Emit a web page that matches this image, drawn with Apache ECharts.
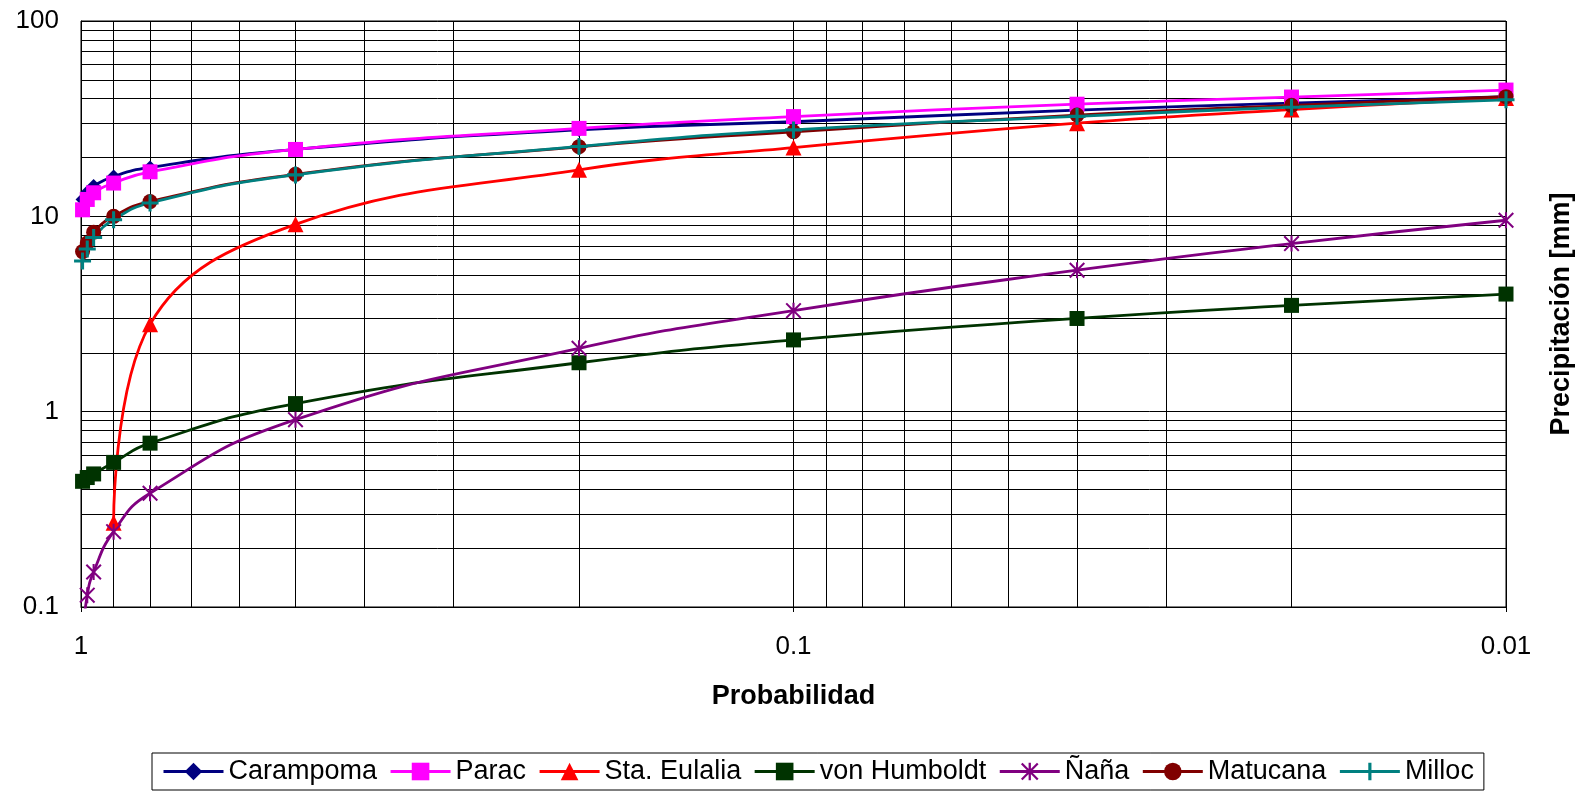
<!DOCTYPE html>
<html><head><meta charset="utf-8">
<script src="https://cdn.jsdelivr.net/npm/echarts@6/dist/echarts.min.js"></script>
<style>html,body{margin:0;padding:0;background:#fff}#c{width:1585px;height:794px}</style>
</head><body><div id="c"></div>
<script>
// Probabilities (x) shared by all stations
const probabilities = [0.995, 0.98, 0.96, 0.9, 0.8, 0.5, 0.2, 0.1, 0.04, 0.02, 0.01];
// Precipitation [mm] per station
const carampoma   = [12.2, 13.3, 14.3, 16.0, 17.8, 22.0, 27.7, 30.5, 35.0, 38.0, 41.0];
const parac       = [10.8, 12.2, 13.2, 14.8, 16.9, 22.0, 28.2, 32.4, 37.5, 40.8, 44.3];
const staEulalia  = [null, null, null, 0.27, 2.8, 9.1, 17.3, 22.5, 30.0, 35.2, 40.3];
const vonHumboldt = [0.44, 0.46, 0.48, 0.55, 0.69, 1.10, 1.78, 2.33, 3.0, 3.5, 4.0];
const nana        = [0.07, 0.115, 0.151, 0.243, 0.382, 0.91, 2.11, 3.29, 5.3, 7.25, 9.55];
const matucana    = [6.6, 7.3, 8.3, 10.0, 11.9, 16.4, 22.7, 27.1, 33.0, 37.0, 41.0];
const milloc      = [5.9, 6.8, 7.8, 9.6, 11.7, 16.3, 22.8, 27.7, 32.5, 36.2, 39.5];

const seriesNames = ['Carampoma', 'Parac', 'Sta. Eulalia', 'von Humboldt', 'Ñaña', 'Matucana', 'Milloc'];
const seriesColors = ['#000080', '#FF00FF', '#FF0000', '#003300', '#800080', '#800000', '#008080'];

// Axis ticks and minor grid values
const xTickLabels = ['1', '0.1', '0.01'];
const yTickLabels = ['0.1', '1', '10', '100'];
const xMinorGrid = [0.9, 0.8, 0.7, 0.6, 0.5, 0.4, 0.3, 0.2, 0.09, 0.08, 0.07, 0.06, 0.05, 0.04, 0.03, 0.02];
const yMinorGrid = [0.2, 0.3, 0.4, 0.5, 0.6, 0.7, 0.8, 0.9, 2, 3, 4, 5, 6, 7, 8, 9, 20, 30, 40, 50, 60, 70, 80, 90];

const starPath = 'path://M0,0.9L0.9,0L5,4.1L9.1,0L10,0.9L5.9,5L10,9.1L9.1,10L5,5.9L0.9,10L0,9.1L4.1,5Z M4.35,0H5.65V10H4.35Z';
const plusPath = 'path://M4.1,0H5.9V4.1H10V5.9H5.9V10H4.1V5.9H0V4.1H4.1Z';
const symbols = ['diamond', 'rect', 'triangle', 'rect', starPath, 'circle', plusPath];
const symbolSizes = [14, 15, 16, 15, 16, 15, 17];
const smoothness = [0.5, 0.5, 0.4, 0.5, 0.5, 0.5, 0.5];
const allValues = [carampoma, parac, staEulalia, vonHumboldt, nana, matucana, milloc];

function fmt(v) {
  return String(+(+v).toPrecision(4));
}

const FONT = 'Arial, "Liberation Sans", sans-serif';

const series = seriesNames.map((name, i) => ({
  name: name,
  type: 'line',
  smooth: smoothness[i],
  data: probabilities.map((p, j) => [p, allValues[i][j]]),
  symbol: symbols[i],
  symbolSize: symbolSizes[i],
  showAllSymbol: true,
  clip: true,
  lineStyle: { color: seriesColors[i], width: 2.8 },
  itemStyle: { color: seriesColors[i], borderWidth: 0 },
  emphasis: { disabled: true },
  z: 3
}));

series.unshift({
  name: '_grid',
  type: 'line',
  data: [],
  silent: true,
  z: 1,
  markLine: {
    silent: true,
    symbol: ['none', 'none'],
    label: { show: false },
    animation: false,
    z: 1,
    emphasis: { disabled: true },
    lineStyle: { color: '#000', width: 1, type: 'solid' },
    data: xMinorGrid.map(v => ({ xAxis: v })).concat(yMinorGrid.map(v => ({ yAxis: v })))
  }
});

const chart = echarts.init(document.getElementById('c'), null, { renderer: 'canvas' });
chart.setOption({
  animation: false,
  backgroundColor: '#fff',
  grid: {
    left: 81, right: 79, top: 21, bottom: 187,
    show: true, borderColor: '#000', borderWidth: 1,
    containLabel: false, outerBoundsMode: 'none'
  },
  xAxis: {
    type: 'log', logBase: 10, min: 0.01, max: 1, inverse: true,
    name: 'Probabilidad', nameLocation: 'middle', nameGap: 76,
    nameTextStyle: { fontFamily: FONT, fontSize: 27, fontWeight: 'bold', color: '#000' },
    axisLine: { show: true, lineStyle: { color: '#000', width: 1 } },
    axisTick: { show: true, inside: false, length: 5, lineStyle: { color: '#000' } },
    axisLabel: { fontFamily: FONT, fontSize: 26, color: '#000', margin: 27, formatter: fmt },
    splitLine: { show: true, lineStyle: { color: '#000', width: 1 } },
    minorTick: { show: false }, minorSplitLine: { show: false }
  },
  yAxis: {
    type: 'log', logBase: 10, min: 0.1, max: 100,
    axisLine: { show: true, lineStyle: { color: '#000', width: 1 } },
    axisTick: { show: false },
    axisLabel: { fontFamily: FONT, fontSize: 26, color: '#000', margin: 22, formatter: fmt },
    splitLine: { show: true, lineStyle: { color: '#000', width: 1 } },
    minorTick: { show: false }, minorSplitLine: { show: false }
  },
  legend: {
    data: seriesNames,
    left: 152, bottom: 4,
    orient: 'horizontal',
    padding: [5, 10],
    itemGap: 12,
    itemWidth: 60, itemHeight: 22,
    borderColor: '#000', borderWidth: 1, backgroundColor: '#fff',
    lineStyle: { width: 3 },
    textStyle: { fontFamily: FONT, fontSize: 27, color: '#000' },
    selectedMode: false
  },
  graphic: [{
    type: 'text',
    x: 1562, y: 314,
    rotation: Math.PI / 2,
    style: {
      text: 'Precipitación [mm]',
      fontFamily: FONT, fontSize: 27, fontWeight: 'bold',
      fill: '#000',
      align: 'center', verticalAlign: 'middle'
    }
  }],
  series: series
});
</script></body></html>
